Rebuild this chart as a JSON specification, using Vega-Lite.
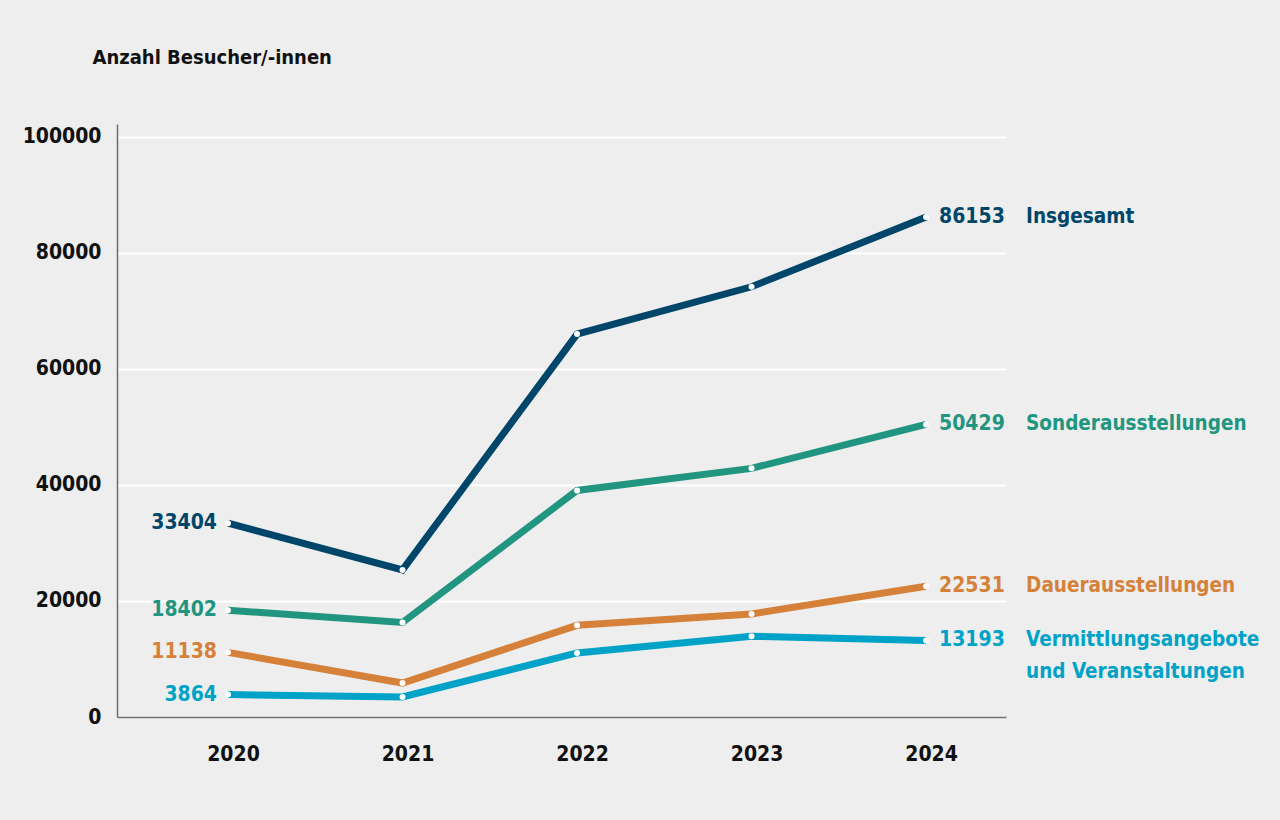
{
  "$schema": "https://vega.github.io/schema/vega-lite/v6.json",
  "width": 889,
  "height": 593,
  "autosize": {"type": "none"},
  "padding": {"left": 117, "top": 124, "right": 274, "bottom": 103},
  "background": "#edeeed",
  "config": {
    "view": {"stroke": null},
    "font": "DejaVu Sans Condensed",
    "text": {"font": "DejaVu Sans Condensed"}
  },
  "datasets": {
    "main": [
      {"year": 2020, "series": "Insgesamt", "value": 33404},
      {"year": 2021, "series": "Insgesamt", "value": 25350},
      {"year": 2022, "series": "Insgesamt", "value": 66000},
      {"year": 2023, "series": "Insgesamt", "value": 74150},
      {"year": 2024, "series": "Insgesamt", "value": 86153},
      {"year": 2020, "series": "Sonderausstellungen", "value": 18402},
      {"year": 2021, "series": "Sonderausstellungen", "value": 16300},
      {"year": 2022, "series": "Sonderausstellungen", "value": 39050},
      {"year": 2023, "series": "Sonderausstellungen", "value": 42850},
      {"year": 2024, "series": "Sonderausstellungen", "value": 50429},
      {"year": 2020, "series": "Dauerausstellungen", "value": 11138},
      {"year": 2021, "series": "Dauerausstellungen", "value": 5850},
      {"year": 2022, "series": "Dauerausstellungen", "value": 15800},
      {"year": 2023, "series": "Dauerausstellungen", "value": 17760},
      {"year": 2024, "series": "Dauerausstellungen", "value": 22531},
      {"year": 2020, "series": "Vermittlungsangebote", "value": 3864},
      {"year": 2021, "series": "Vermittlungsangebote", "value": 3450},
      {"year": 2022, "series": "Vermittlungsangebote", "value": 11034},
      {"year": 2023, "series": "Vermittlungsangebote", "value": 13930},
      {"year": 2024, "series": "Vermittlungsangebote", "value": 13193}
    ],
    "names": [
      {"year": 2024, "series": "Insgesamt", "value": 86153, "name": "Insgesamt"},
      {"year": 2024, "series": "Sonderausstellungen", "value": 50429, "name": "Sonderausstellungen"},
      {"year": 2024, "series": "Dauerausstellungen", "value": 22531, "name": "Dauerausstellungen"},
      {"year": 2024, "series": "Vermittlungsangebote", "value": 13193, "name": "Vermittlungsangebote\nund Veranstaltungen"}
    ]
  },
  "data": {"name": "main"},
  "encoding": {
    "x": {
      "field": "year", "type": "quantitative",
      "scale": {"domain": [2019.364, 2024.458], "nice": false, "zero": false},
      "axis": {
        "values": [2020, 2021, 2022, 2023, 2024],
        "format": "d",
        "title": null,
        "grid": false,
        "ticks": false,
        "domainColor": "#6e6e6e",
        "domainWidth": 1.5,
        "labelFont": "DejaVu Sans Condensed",
        "labelFontWeight": "bold",
        "labelFontSize": 21,
        "labelColor": "#111111",
        "labelPadding": 26,
        "labelOffset": 5
      }
    },
    "y": {
      "field": "value", "type": "quantitative",
      "scale": {"domain": [0, 102200], "nice": false},
      "axis": {
        "values": [0, 20000, 40000, 60000, 80000, 100000],
        "format": "d",
        "title": "Anzahl Besucher/-innen",
        "titleAngle": 0,
        "titleAlign": "left",
        "titleBaseline": "middle",
        "titleX": -25,
        "titleY": -67,
        "titleFont": "DejaVu Sans Condensed",
        "titleFontWeight": "bold",
        "titleFontSize": 20,
        "titleColor": "#111111",
        "grid": true,
        "gridColor": "#ffffff",
        "gridWidth": 2,
        "ticks": false,
        "domainColor": "#6e6e6e",
        "domainWidth": 1.5,
        "labelFont": "DejaVu Sans Condensed",
        "labelFontWeight": "bold",
        "labelFontSize": 21,
        "labelColor": "#111111",
        "labelPadding": 16
      }
    },
    "color": {
      "field": "series", "type": "nominal",
      "scale": {
        "domain": ["Insgesamt", "Sonderausstellungen", "Dauerausstellungen", "Vermittlungsangebote"],
        "range": ["#00466a", "#229580", "#d5813a", "#00a3c7"]
      },
      "legend": null
    }
  },
  "layer": [
    {"mark": {"type": "line", "strokeWidth": 7, "strokeCap": "butt", "strokeJoin": "miter"}},
    {"mark": {"type": "point", "filled": true, "size": 36, "opacity": 1, "shape": "circle"}, "encoding": {"color": {"value": "#ffffff"}}},
    {
      "transform": [{"filter": "datum.year == 2020"}],
      "mark": {"type": "text", "align": "right", "baseline": "middle", "dx": -11, "fontSize": 21, "fontWeight": "bold"},
      "encoding": {"text": {"field": "value", "type": "quantitative", "format": "d"}}
    },
    {
      "transform": [{"filter": "datum.year == 2024"}],
      "mark": {"type": "text", "align": "left", "baseline": "middle", "dx": 13, "fontSize": 21, "fontWeight": "bold"},
      "encoding": {"text": {"field": "value", "type": "quantitative", "format": "d"}}
    },
    {
      "data": {"name": "names"},
      "mark": {"type": "text", "align": "left", "baseline": "middle", "dx": 100, "lineHeight": 32, "lineBreak": "\n", "fontSize": 20.5, "fontWeight": "bold"},
      "encoding": {"text": {"field": "name", "type": "nominal"}}
    }
  ]
}
